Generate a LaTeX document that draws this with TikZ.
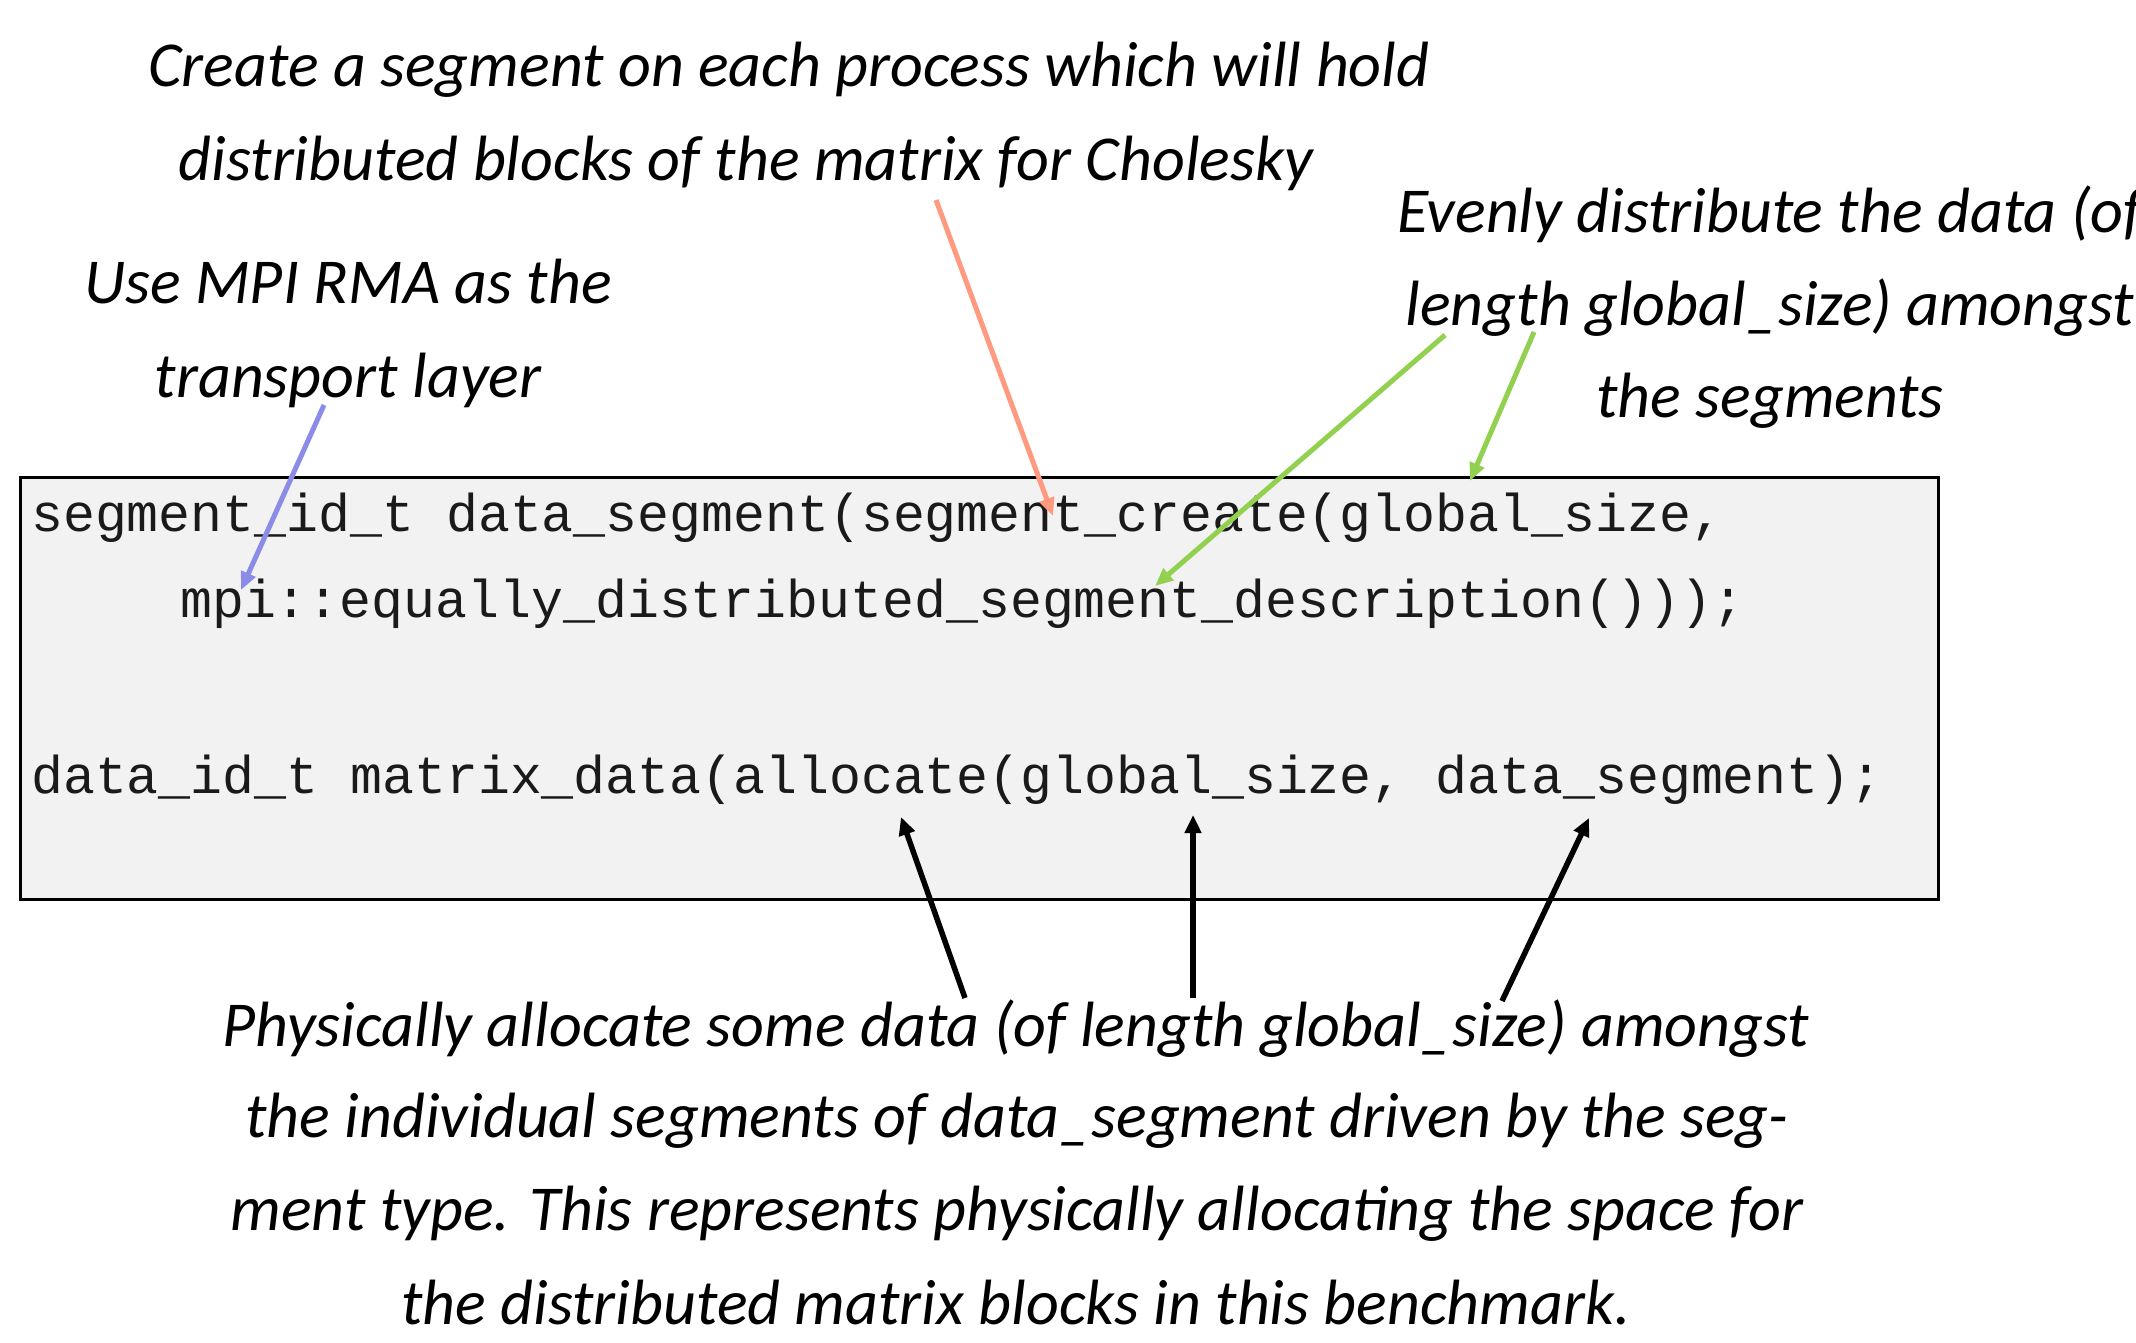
\documentclass[tikz,border=0pt]{standalone}
\usepackage{fontspec}
\setmainfont{Carlito}
\newfontfamily\codefont{Liberation Mono}
\usetikzlibrary{arrows.meta}
\definecolor{boxgray}{HTML}{F2F2F2}
\definecolor{ptrblue}{HTML}{8B8BE8}
\definecolor{ptrred}{HTML}{FF9A80}
\definecolor{ptrgreen}{HTML}{92D050}
\definecolor{codeink}{HTML}{1A1A1A}
\begin{document}
\begin{tikzpicture}[x=1pt,y=-1pt,
  note/.style={anchor=base, inner sep=0pt, font=\fontsize{64}{77}\selectfont\itshape},
  codeline/.style={anchor=base west, inner sep=0pt, text=codeink, font=\fontsize{53.2}{64}\selectfont\codefont},
  ptr/.style={line width=5pt, -{Triangle[length=18pt,width=15pt]}},
  blackptr/.style={line width=5.5pt, black, -{Triangle[length=18pt,width=16pt]}},
  codebox/.style={draw=black, line width=3pt, fill=boxgray, inner sep=0pt, minimum width=1918pt, minimum height=422pt}]
\useasboundingbox (0,0) rectangle (2136,1343);

% code box
\node[codebox] (box) at (979,688) {};
\node[codeline] (c1) at (31,531) {segment\_id\_t data\_segment(segment\_create(global\_size,};
\node[codeline] (c2) at (180,617) {mpi::equally\_distributed\_segment\_description()));};
\node[codeline] (c3) at (31,793) {data\_id\_t matrix\_data(allocate(global\_size, data\_segment);};

% notes
\node[note] (t1) at (789,87) {Create a segment on each process which will hold};
\node[note] (t2) at (746,181) {distributed blocks of the matrix for Cholesky};
\node[note] (u1) at (348,303) {Use MPI RMA as the};
\node[note] (u2) at (348,397) {transport layer};
\node[note] (e1) at (1770,233) {Evenly distribute the data (of};
\node[note] (e2) at (1770,325) {length global\_size) amongst};
\node[note] (e3) at (1770,417) {the segments};
\node[note] (p1) at (1016,1046) {Physically allocate some data (of length global\_size) amongst};
\node[note] (p2) at (1017,1137) {the individual segments of data\_segment driven by the seg-};
\node[note] (p3) at (1017,1230) {ment type. This represents physically allocating the space for};
\node[note] (p4) at (1016,1324) {the distributed matrix blocks in this benchmark.};

% arrow end points
\coordinate (bs) at (324,405);  \coordinate (be) at (241,590);
\coordinate (rs) at (936,200);  \coordinate (re) at (1053,516);
\coordinate (g1s) at (1445,335); \coordinate (g1e) at (1155,586);
\coordinate (g2s) at (1534,332); \coordinate (g2e) at (1470,481);
\coordinate (as) at (965,998);  \coordinate (ae) at (901,817);
\coordinate (bbs) at (1193,998); \coordinate (bbe) at (1193,815);
\coordinate (cs) at (1502,1001); \coordinate (ce) at (1589,818);

\draw[ptr, ptrblue] (bs) -- (be);
\draw[ptr, ptrred] (rs) -- (re);
\draw[ptr, ptrgreen] (g1s) -- (g1e);
\draw[ptr, ptrgreen] (g2s) -- (g2e);
\draw[blackptr] (as) -- (ae);
\draw[blackptr] (bbs) -- (bbe);
\draw[blackptr] (cs) -- (ce);
\end{tikzpicture}
\end{document}
